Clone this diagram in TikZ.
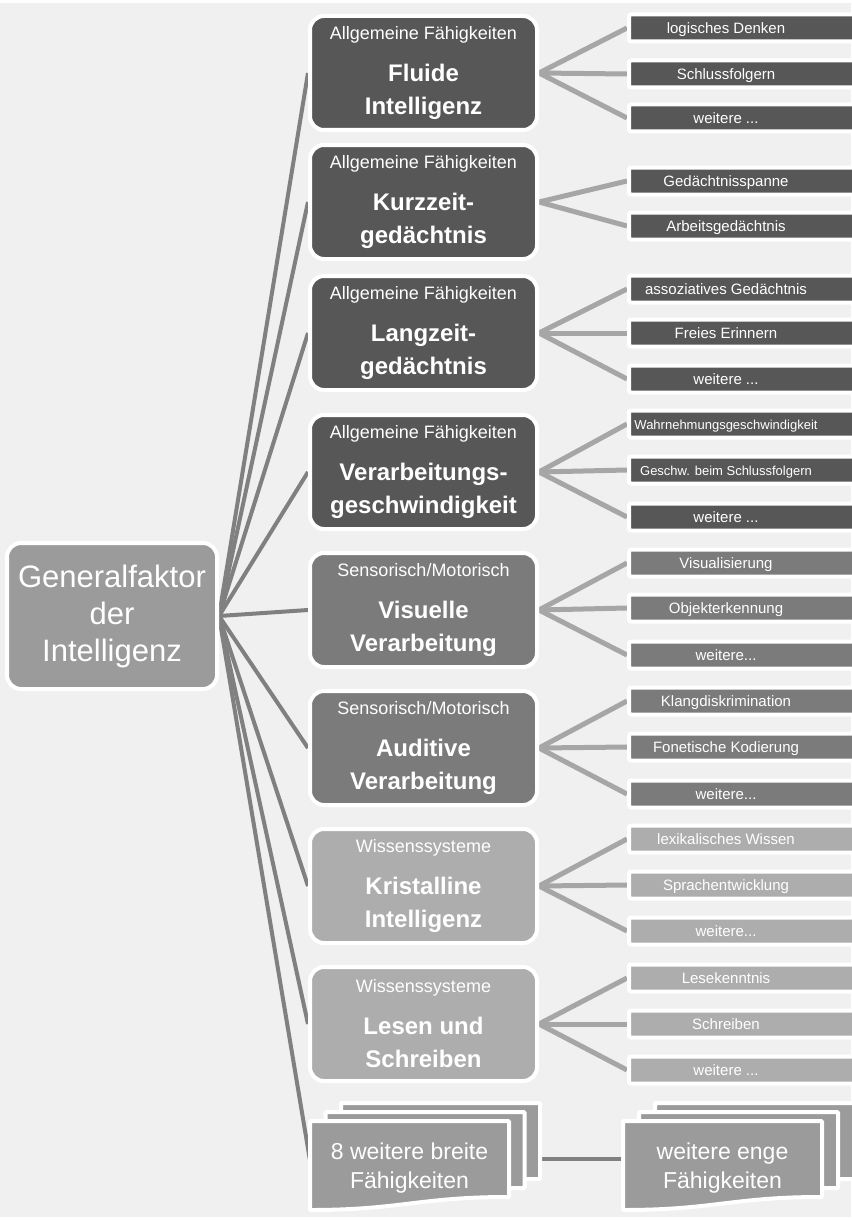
\documentclass[tikz,border=0pt]{standalone}
\usepackage{fontspec}
\setmainfont{Liberation Sans}
\usetikzlibrary{backgrounds}
\definecolor{pageGray}{HTML}{F0F0F0}
\definecolor{darkBox}{HTML}{575757}
\definecolor{midBox}{HTML}{7B7B7B}
\definecolor{lightBox}{HTML}{ADADAD}
\definecolor{rootBox}{HTML}{9B9B9B}
\definecolor{rootLine}{HTML}{808080}
\definecolor{leafLine}{HTML}{A6A6A6}
\tikzset{
  rootbox/.style={draw=white,fill=rootBox,line width=4pt,rounded corners=14pt,minimum width=210pt,minimum height=146pt,inner sep=0pt,align=center,text=white,font=\fontsize{31}{37}\selectfont},
  broad/.style={draw=white,fill=#1,line width=4pt,rounded corners=14pt,minimum width=227pt,minimum height=114pt,inner sep=0pt,align=center,text=white,font=\fontsize{24}{33}\selectfont\bfseries},
  narrow/.style={draw=white,fill=#1,line width=4pt,rounded corners=2pt,minimum height=27pt,inner sep=0pt,anchor=west,text=white,text height=10.5pt,text depth=0pt,font=\fontsize{15}{18}\selectfont,
    execute at begin node={\hbox to 194pt\bgroup\hss},execute at end node={\hss\egroup\hskip70pt}},
  sheettext/.style={minimum width=199pt,minimum height=76pt,inner sep=0pt,align=center,text=white,font=\fontsize{23}{29}\selectfont},
  docsheet/.pic={\filldraw[draw=white,fill=rootBox,line width=4pt,rounded corners=1pt] (0,0) -- (199,0) -- (199,76) .. controls (110,76) and (90,89) .. (0,89) -- cycle;},
  rootline/.style={draw=rootLine,line width=4pt},
  leafline/.style={draw=leafLine,line width=5pt}
}
\newcommand\sub[1]{{\fontsize{18}{22}\selectfont\mdseries #1}\\[9pt]}

\begin{document}
\begin{tikzpicture}[x=1pt,y=-1pt]
\useasboundingbox (0,0) rectangle (851,1220);

\node (gf) at (112,616) [rootbox] {Generalfaktor\\der\\Intelligenz};

\node (fi) at (423.5,73) [broad=darkBox] {\sub{Allgemeine Fähigkeiten}Fluide\\Intelligenz};
\node (kz) at (423.5,202) [broad=darkBox] {\sub{Allgemeine Fähigkeiten}Kurzzeit-\\gedächtnis};
\node (lz) at (423.5,333) [broad=darkBox] {\sub{Allgemeine Fähigkeiten}Langzeit-\\gedächtnis};
\node (vg) at (423.5,472) [broad=darkBox] {\sub{Allgemeine Fähigkeiten}Verarbeitungs-\\geschwindigkeit};
\node (vv) at (423.5,610) [broad=midBox] {\sub{Sensorisch/Motorisch}Visuelle\\Verarbeitung};
\node (av) at (423.5,748) [broad=midBox] {\sub{Sensorisch/Motorisch}Auditive\\Verarbeitung};
\node (ki) at (423.5,886) [broad=lightBox] {\sub{Wissenssysteme}Kristalline\\Intelligenz};
\node (ls) at (423.5,1024) [broad=lightBox] {\sub{Wissenssysteme}Lesen und\\Schreiben};

% leaves
\node (fi1) at (627,28) [narrow=darkBox] {logisches Denken};
\node (fi2) at (627,74) [narrow=darkBox] {Schlussfolgern};
\node (fi3) at (627,118) [narrow=darkBox] {weitere ...};
\node (kz1) at (627,181) [narrow=darkBox] {Gedächtnisspanne};
\node (kz2) at (627,226) [narrow=darkBox] {Arbeitsgedächtnis};
\node (lz1) at (627,289) [narrow=darkBox] {assoziatives Gedächtnis};
\node (lz2) at (627,333) [narrow=darkBox] {Freies Erinnern};
\node (lz3) at (627,379) [narrow=darkBox] {weitere ...};
\node (vg1) at (627,424) [narrow=darkBox] {\fontsize{13}{16}\selectfont Wahrnehmungsgeschwindigkeit};
\node (vg2) at (627,470) [narrow=darkBox] {\fontsize{13}{16}\selectfont Geschw. beim Schlussfolgern};
\node (vg3) at (627,517) [narrow=darkBox] {weitere ...};
\node (vv1) at (627,563) [narrow=midBox] {Visualisierung};
\node (vv2) at (627,608) [narrow=midBox] {Objekterkennung};
\node (vv3) at (627,655) [narrow=midBox] {weitere...};
\node (av1) at (627,701) [narrow=midBox] {Klangdiskrimination};
\node (av2) at (627,747) [narrow=midBox] {Fonetische Kodierung};
\node (av3) at (627,794) [narrow=midBox] {weitere...};
\node (ki1) at (627,839) [narrow=lightBox] {lexikalisches Wissen};
\node (ki2) at (627,885) [narrow=lightBox] {Sprachentwicklung};
\node (ki3) at (627,931) [narrow=lightBox] {weitere...};
\node (ls1) at (627,978) [narrow=lightBox] {Lesekenntnis};
\node (ls2) at (627,1024) [narrow=lightBox] {Schreiben};
\node (ls3) at (627,1070) [narrow=lightBox] {weitere ...};

% stacked sheets
\pic at (341,1103) {docsheet};
\pic at (325.5,1112) {docsheet};
\pic at (310,1121) {docsheet};
\node (brd) at (409.5,1168) [sheettext] {8 weitere breite\\Fähigkeiten};
\pic at (655,1103) {docsheet};
\pic at (639,1112) {docsheet};
\pic at (623,1121) {docsheet};
\node (eng) at (722.5,1168) [sheettext] {weitere enge\\Fähigkeiten};

\begin{scope}[on background layer]
\fill [white] (0,0) rectangle (851,1220);
\fill [pageGray] (0,3) rectangle (851,1217);

\draw [rootline] (gf.east) -- (fi.west);
\draw [rootline] (gf.east) -- (kz.west);
\draw [rootline] (gf.east) -- (lz.west);
\draw [rootline] (gf.east) -- (vg.west);
\draw [rootline] (gf.east) -- (vv.west);
\draw [rootline] (gf.east) -- (av.west);
\draw [rootline] (gf.east) -- (ki.west);
\draw [rootline] (gf.east) -- (ls.west);
\draw [rootline] (gf.east) -- (brd.175);
\draw [rootline] (brd.5) -- (eng.175);

\draw [leafline] (fi.east) -- (fi1.west);
\draw [leafline] (fi.east) -- (fi2.west);
\draw [leafline] (fi.east) -- (fi3.west);
\draw [leafline] (kz.east) -- (kz1.west);
\draw [leafline] (kz.east) -- (kz2.west);
\draw [leafline] (lz.east) -- (lz1.west);
\draw [leafline] (lz.east) -- (lz2.west);
\draw [leafline] (lz.east) -- (lz3.west);
\draw [leafline] (vg.east) -- (vg1.west);
\draw [leafline] (vg.east) -- (vg2.west);
\draw [leafline] (vg.east) -- (vg3.west);
\draw [leafline] (vv.east) -- (vv1.west);
\draw [leafline] (vv.east) -- (vv2.west);
\draw [leafline] (vv.east) -- (vv3.west);
\draw [leafline] (av.east) -- (av1.west);
\draw [leafline] (av.east) -- (av2.west);
\draw [leafline] (av.east) -- (av3.west);
\draw [leafline] (ki.east) -- (ki1.west);
\draw [leafline] (ki.east) -- (ki2.west);
\draw [leafline] (ki.east) -- (ki3.west);
\draw [leafline] (ls.east) -- (ls1.west);
\draw [leafline] (ls.east) -- (ls2.west);
\draw [leafline] (ls.east) -- (ls3.west);
\end{scope}

\end{tikzpicture}
\end{document}
